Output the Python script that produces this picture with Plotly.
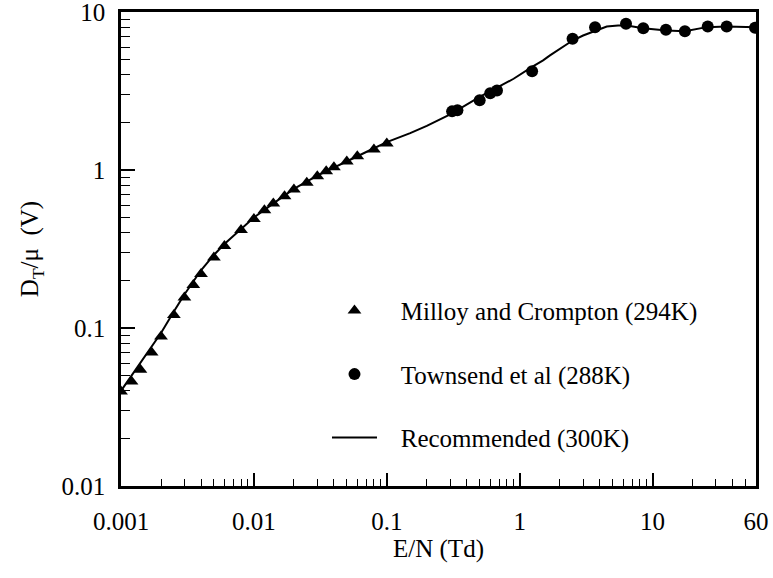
import plotly.graph_objects as go

# Milloy and Crompton (294K)
mc_en = [0.001, 0.0012, 0.0014, 0.0017, 0.002, 0.0025, 0.003, 0.0035, 0.004, 0.005,
         0.006, 0.008, 0.01, 0.012, 0.014, 0.017, 0.02, 0.025, 0.03, 0.035,
         0.04, 0.05, 0.06, 0.08, 0.1]
mc_dt = [0.0397, 0.0459, 0.0544, 0.0699, 0.0882, 0.121, 0.156, 0.187, 0.220, 0.279,
         0.330, 0.417, 0.489, 0.557, 0.614, 0.683, 0.753, 0.829, 0.914, 0.983,
         1.04, 1.13, 1.22, 1.35, 1.47]

# Townsend et al (288K)
tw_en = [0.31, 0.34, 0.50, 0.60, 0.675, 1.24, 2.50, 3.69, 6.31, 8.51, 12.6, 17.5, 26.0, 36.1, 59.0]
tw_dt = [2.35, 2.39, 2.76, 3.06, 3.19, 4.21, 6.77, 8.02, 8.42, 7.90, 7.72, 7.56, 8.10, 8.10, 7.95]

# Recommended (300K)
rec_en = [0.001, 0.0012, 0.0014, 0.0017, 0.002, 0.0025, 0.003, 0.004, 0.005, 0.006,
          0.008, 0.01, 0.015, 0.02, 0.03, 0.05, 0.07, 0.1, 0.15, 0.2, 0.3, 0.5,
          0.9, 1.24, 1.5, 1.69, 2.0, 2.5, 3.0, 3.69, 4.52, 5.5, 6.4, 8.5, 12.7, 17.5, 25.5, 36, 60]
rec_dt = [0.040, 0.050, 0.060, 0.076, 0.093, 0.127, 0.163, 0.232, 0.290, 0.340,
          0.425, 0.50, 0.64, 0.76, 0.92, 1.14, 1.30, 1.50, 1.71, 1.90, 2.25, 2.90,
          3.78, 4.50, 4.94, 5.31, 5.83, 6.60, 7.10, 7.56, 8.10, 8.22, 8.22, 7.90, 7.64, 7.56, 8.02, 8.10, 8.02]

x_tickvals = [0.001, 0.01, 0.1, 1, 10, 60]
x_ticktext = ["0.001", "0.01", "0.1", "1", "10", "60"]
y_tickvals = [0.01, 0.1, 1, 10]
y_ticktext = ["0.01", "0.1", "1", "10"]

x_minor = [m * 10.0 ** e for e in range(-3, 2) for m in range(2, 10) if m * 10.0 ** e < 60]
y_minor = [m * 10.0 ** e for e in range(-2, 1) for m in range(2, 10)]

FONT = "Liberation Serif, Times New Roman, serif"
PAD = "\u00a0\u00a0\u00a0"

fig = go.Figure()
fig.add_trace(go.Scatter(
    x=mc_en, y=mc_dt, mode="markers", name=PAD + "Milloy and Crompton (294K)",
    marker=dict(symbol="triangle-up", size=12, color="black"),
    legendgroup="a"))
fig.add_trace(go.Scatter(
    x=tw_en, y=tw_dt, mode="markers", name=PAD + "Townsend et al (288K)",
    marker=dict(symbol="circle", size=12, color="black"),
    legendgroup="b"))
fig.add_trace(go.Scatter(
    x=rec_en, y=rec_dt, mode="lines", name=PAD + "Recommended (300K)",
    line=dict(color="black", width=2),
    legendgroup="c"))

fig.update_layout(
    width=773, height=578,
    margin=dict(l=121, r=17, t=12, b=92),
    paper_bgcolor="white", plot_bgcolor="white",
    font=dict(family=FONT, size=25, color="black"),
    showlegend=True,
    legend=dict(
        x=0.3244, y=0.418, xanchor="left", yanchor="top",
        xref="paper", yref="paper",
        bgcolor="rgba(0,0,0,0)", borderwidth=0,
        font=dict(family=FONT, size=25, color="black"),
        traceorder="grouped", tracegroupgap=28,
        itemwidth=45,
    ),
    xaxis=dict(
        type="log", range=[-3, 1.77815], automargin=False,
        tickmode="array", tickvals=x_tickvals, ticktext=x_ticktext,
        ticks="inside", ticklen=13, tickwidth=1.5, tickcolor="black",
        minor=dict(tickmode="array", tickvals=x_minor, ticks="inside", ticklen=7,
                   tickwidth=1, tickcolor="black", showgrid=False),
        showgrid=False, zeroline=False,
        showline=True, linecolor="black", linewidth=2.5, mirror=True,
        ticklabelstandoff=11, ticklabeloverflow="allow",
        title=dict(text="E/N (Td)", font=dict(family=FONT, size=25), standoff=6),
    ),
    yaxis=dict(
        type="log", range=[-2, 1], automargin=False,
        tickmode="array", tickvals=y_tickvals, ticktext=y_ticktext,
        ticks="inside", ticklen=14, tickwidth=1.5, tickcolor="black",
        minor=dict(tickmode="array", tickvals=y_minor, ticks="inside", ticklen=9,
                   tickwidth=1, tickcolor="black", showgrid=False),
        showgrid=False, zeroline=False,
        showline=True, linecolor="black", linewidth=2.5, mirror=True,
        ticklabelstandoff=8, ticklabeloverflow="allow",
        title=dict(text="D<sub>T</sub>/μ  (V)", font=dict(family=FONT, size=25), standoff=16),
    ),
)

fig.write_html("out.html")
